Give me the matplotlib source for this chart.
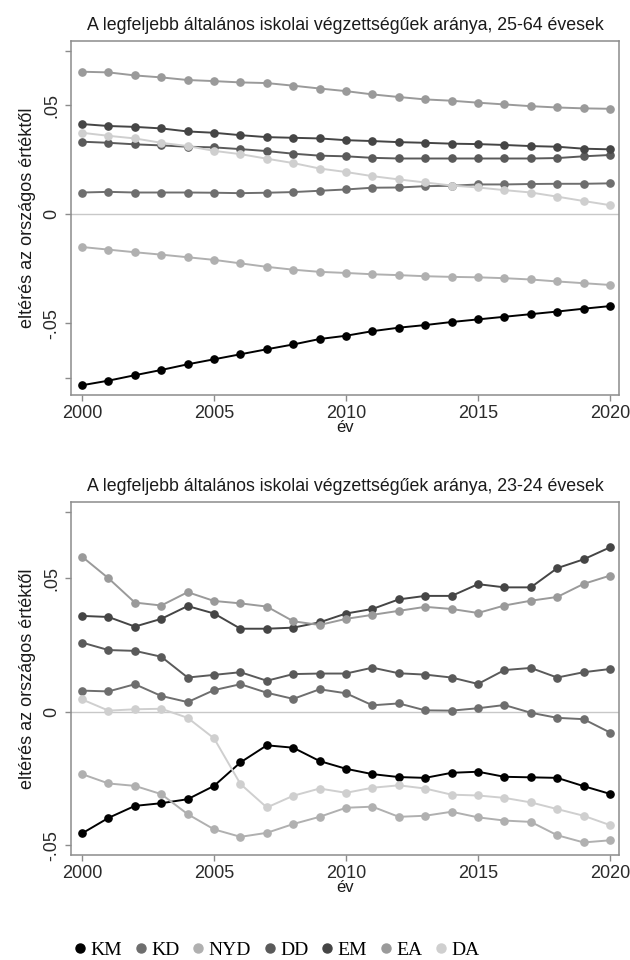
import matplotlib
matplotlib.use("Agg")
import matplotlib.pyplot as plt
from matplotlib.lines import Line2D

plt.rcParams['font.family'] = ['Liberation Sans', 'DejaVu Sans']

years = list(range(2000, 2021))
regions = ['KM', 'KD', 'NYD', 'DD', 'EM', 'EA', 'DA']
colors = ['#000000', '#6e6e6e', '#b0b0b0', '#5a5a5a', '#454545', '#9a9a9a', '#cfcfcf']

# 25-64 évesek
km_2564 = [-0.0785, -0.0764, -0.0739, -0.0715, -0.0689, -0.0666, -0.0643, -0.0620, -0.0598, -0.0573, -0.0558,
           -0.0537, -0.0521, -0.0509, -0.0495, -0.0483, -0.0471, -0.0459, -0.0447, -0.0434, -0.0422]
kd_2564 = [0.0099, 0.0102, 0.0099, 0.0099, 0.0099, 0.0098, 0.0096, 0.0098, 0.0101, 0.0107, 0.0113,
           0.0121, 0.0122, 0.0128, 0.0130, 0.0136, 0.0136, 0.0138, 0.0139, 0.0139, 0.0141]
nyd_2564 = [-0.0151, -0.0163, -0.0175, -0.0186, -0.0198, -0.0210, -0.0226, -0.0242, -0.0255, -0.0265, -0.0270,
            -0.0276, -0.0280, -0.0285, -0.0288, -0.0290, -0.0294, -0.0300, -0.0309, -0.0317, -0.0325]
dd_2564 = [0.0332, 0.0327, 0.0320, 0.0315, 0.0309, 0.0306, 0.0298, 0.0289, 0.0277, 0.0268, 0.0265,
           0.0258, 0.0255, 0.0255, 0.0255, 0.0255, 0.0255, 0.0255, 0.0257, 0.0265, 0.0271]
em_2564 = [0.0413, 0.0404, 0.0400, 0.0393, 0.0379, 0.0373, 0.0362, 0.0353, 0.0350, 0.0347, 0.0339,
           0.0335, 0.0330, 0.0327, 0.0323, 0.0321, 0.0317, 0.0312, 0.0309, 0.0300, 0.0297]
ea_2564 = [0.0653, 0.0650, 0.0636, 0.0627, 0.0615, 0.0610, 0.0604, 0.0601, 0.0589, 0.0576, 0.0564,
           0.0549, 0.0537, 0.0526, 0.0520, 0.0511, 0.0503, 0.0495, 0.0489, 0.0485, 0.0483]
da_2564 = [0.0373, 0.0359, 0.0347, 0.0327, 0.0312, 0.0290, 0.0275, 0.0254, 0.0234, 0.0209, 0.0193,
           0.0174, 0.0159, 0.0145, 0.0131, 0.0122, 0.0110, 0.0099, 0.0080, 0.0060, 0.0041]

# 23-24 évesek
km_2324 = [-0.0456, -0.0398, -0.0353, -0.0343, -0.0328, -0.0278, -0.0190, -0.0126, -0.0135, -0.0185, -0.0214,
           -0.0234, -0.0245, -0.0248, -0.0229, -0.0225, -0.0244, -0.0246, -0.0248, -0.0279, -0.0308]
kd_2324 = [0.0079, 0.0076, 0.0103, 0.0059, 0.0036, 0.0081, 0.0103, 0.0071, 0.0048, 0.0084, 0.0069,
           0.0024, 0.0031, 0.0005, 0.0004, 0.0013, 0.0025, -0.0004, -0.0023, -0.0028, -0.0078]
nyd_2324 = [-0.0234, -0.0269, -0.0278, -0.0309, -0.0384, -0.0441, -0.0469, -0.0454, -0.0421, -0.0394, -0.0360,
            -0.0356, -0.0394, -0.0390, -0.0375, -0.0396, -0.0408, -0.0413, -0.0463, -0.0490, -0.0482]
dd_2324 = [0.0259, 0.0231, 0.0228, 0.0206, 0.0128, 0.0138, 0.0148, 0.0116, 0.0141, 0.0143, 0.0143,
           0.0165, 0.0144, 0.0139, 0.0128, 0.0104, 0.0156, 0.0164, 0.0128, 0.0148, 0.0160]
em_2324 = [0.0359, 0.0355, 0.0319, 0.0348, 0.0396, 0.0368, 0.0311, 0.0311, 0.0315, 0.0335, 0.0368,
           0.0385, 0.0421, 0.0434, 0.0434, 0.0478, 0.0466, 0.0466, 0.0538, 0.0571, 0.0616]
ea_2324 = [0.0581, 0.0500, 0.0409, 0.0398, 0.0448, 0.0415, 0.0406, 0.0394, 0.0339, 0.0325, 0.0348,
           0.0363, 0.0378, 0.0393, 0.0385, 0.0370, 0.0398, 0.0416, 0.0430, 0.0479, 0.0510]
da_2324 = [0.0046, 0.0004, 0.0009, 0.0011, -0.0023, -0.0100, -0.0271, -0.0359, -0.0315, -0.0288, -0.0304,
           -0.0285, -0.0276, -0.0288, -0.0311, -0.0314, -0.0323, -0.0340, -0.0365, -0.0390, -0.0425]

panels = [
    ("A legfeljebb általános iskolai végzettségűek aránya, 25-64 évesek",
     [km_2564, kd_2564, nyd_2564, dd_2564, em_2564, ea_2564, da_2564],
     (-0.083, 0.0794), [-0.075, -0.05, 0, 0.05, 0.075], ['', '-.05', '0', '.05', '']),
    ("A legfeljebb általános iskolai végzettségűek aránya, 23-24 évesek",
     [km_2324, kd_2324, nyd_2324, dd_2324, em_2324, ea_2324, da_2324],
     (-0.0537, 0.0786), [-0.05, 0, 0.05, 0.075], ['-.05', '0', '.05', '']),
]

fig = plt.figure(figsize=(6.3, 9.6), dpi=100)
rects = [[0.1127, 0.5885, 0.8698, 0.3688], [0.1127, 0.1094, 0.8698, 0.3677]]
frame = '#8c8c8c'

for rect, (title, series, ylim, yt, ytl) in zip(rects, panels):
    ax = fig.add_axes(rect)
    ax.axhline(0, color='#c8c8c8', lw=1.0, zorder=1)
    for vals, c in zip(series, colors):
        ax.plot(years, vals, color=c, lw=1.4, marker='o', ms=5.2, zorder=3)
    ax.set_xlim(1999.58, 2020.34)
    ax.set_ylim(*ylim)
    ax.set_xticks([2000, 2005, 2010, 2015, 2020])
    ax.set_yticks(yt)
    ax.set_yticklabels(ytl, rotation=90, va='center')
    ax.tick_params(colors='#2a2a2a', labelsize=13, length=4, width=1, direction='out')
    ax.tick_params(axis='both', color=frame)
    ax.tick_params(axis='y', pad=4)
    ax.tick_params(axis='x', pad=3)
    for s in ax.spines.values():
        s.set_color(frame)
        s.set_linewidth(1.1)
    ax.set_title(title, fontsize=12.8, color='#1a1a1a', pad=8)
    ax.set_xlabel('év', fontsize=12, color='#1a1a1a', labelpad=-1)
    ax.set_ylabel('eltérés az országos értéktől', fontsize=13, color='#1a1a1a', labelpad=5)

handles = [Line2D([], [], ls='none', marker='o', ms=6.5, color=c) for c in colors]
fig.legend(handles, regions, loc='center', bbox_to_anchor=(275 / 630, 1 - 950 / 960),
           ncol=7, frameon=False, handletextpad=0.05, columnspacing=0.45, handlelength=1.0,
           prop={'family': 'Liberation Serif', 'size': 14})

fig.savefig('out.png', dpi=100, facecolor='white')
